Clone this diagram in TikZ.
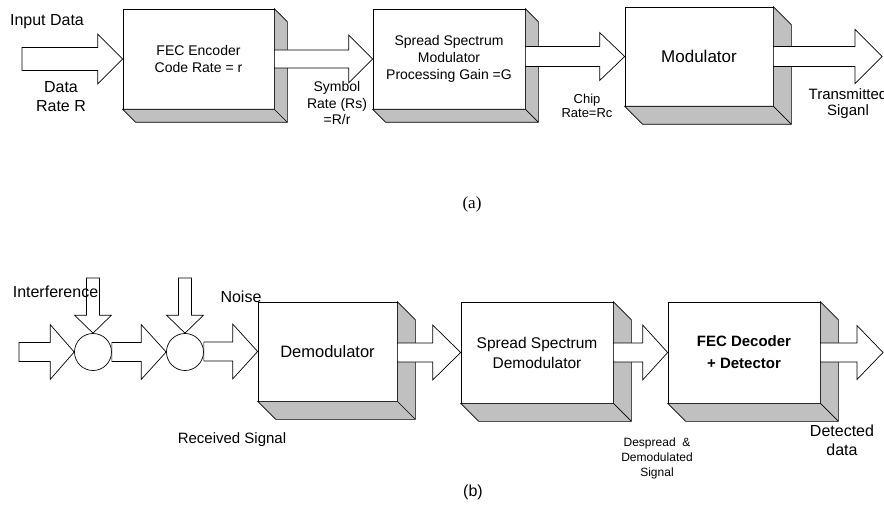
\documentclass[tikz,border=0pt]{standalone}
\usepackage{fontspec}
\setmainfont{Liberation Sans}
\newfontfamily\capfont{Liberation Serif}
\usetikzlibrary{calc}
\definecolor{shade}{HTML}{C0C0C0}

% block arrow: start, tip, shaft half width, head half width, head length
\newcommand{\fatarrow}[5]{%
  \draw[fill=white] let \p1=(#1), \p2=(#2) in
    (\x1,\y2+#3) -- (\x2-#5,\y2+#3) -- (\x2-#5,\y2+#4) -- (\x2,\y2)
    -- (\x2-#5,\y2-#4) -- (\x2-#5,\y2-#3) -- (\x1,\y2-#3) -- cycle;}
\newcommand{\fatdown}[5]{%
  \draw[fill=white] let \p1=(#1), \p2=(#2) in
    (\x2-#3,\y1) -- (\x2-#3,\y2+#5) -- (\x2-#4,\y2+#5) -- (\x2,\y2)
    -- (\x2+#4,\y2+#5) -- (\x2+#3,\y2+#5) -- (\x2+#3,\y1) -- cycle;}

\begin{document}
\begin{tikzpicture}[x=1pt,y=-1pt,line width=0.7pt,
  blockbox/.style={rectangle, draw, fill=white, inner sep=0pt, align=center, font=\fontsize{14}{17}\selectfont},
  junction/.style={circle, draw, fill=white, minimum size=37pt, inner sep=0pt},
  lbl/.style={inner sep=0pt, align=center, font=\fontsize{16}{19}\selectfont}]

\useasboundingbox (0,0) rectangle (884,505);

% (a) transmitter
\node (fec) [blockbox, minimum width=151, minimum height=100] at (198.5,59)
{FEC Encoder\\Code Rate = r};
\node (ss) [blockbox, minimum width=152, minimum height=100] at (449,59)
{Spread Spectrum\\Modulator\\Processing Gain =G};
\node (mod) [blockbox, minimum width=148, minimum height=99, font=\fontsize{17}{20}\selectfont] at (699,56.5)
{Modulator};
\coordinate (in) at (22,60);
\coordinate (out) at (882,56.5);

% (b) receiver
\node (sum1) [junction] at (93,352) {};
\node (sum2) [junction] at (185,352) {};
\coordinate (intf) at (93,278);
\coordinate (noise) at (185,278);
\node (dem) [blockbox, minimum width=139, minimum height=99, font=\fontsize{16.5}{20}\selectfont] at (327.5,351.5)
{Demodulator};
\node (ssd) [blockbox, minimum width=152, minimum height=101, font=\fontsize{15.5}{20}\selectfont] at (537,352.5)
{Spread Spectrum\\Demodulator};
\node (fecd) [blockbox, minimum width=152, minimum height=101, font=\bfseries\fontsize{15}{22}\selectfont] at (744,352.5)
{FEC Decoder\\+ Detector};
\coordinate (rin) at (19,352);
\coordinate (rout) at (883,352.5);

% depth faces
\foreach \b/\shift in {fec/13,ss/13,mod/18,dem/18,ssd/18,fecd/18}{
  \filldraw[fill=shade] (\b.north east) -- ++(\shift,\shift) -- ($(\b.south east)+(\shift,\shift)$)
    -- ($(\b.south west)+(\shift,\shift)$) -- (\b.south west) -- (\b.south east) -- cycle;
  \draw (\b.south east) -- ++(\shift,\shift);
}

\fatarrow{in}{fec.west}{11.5}{25}{25}
\fatarrow{fec.east}{ss.west}{9}{24}{24}
\fatarrow{ss.east}{mod.west}{10}{24}{25}
\fatarrow{mod.east}{out}{10}{27}{27}

\fatarrow{rin}{sum1.west}{9.5}{27.5}{24}
\fatarrow{sum1.east}{sum2.west}{9.5}{27.5}{25}
\fatarrow{sum2.east}{dem.west}{9.5}{27.5}{25}
\fatarrow{dem.east}{ssd.west}{9.5}{27.5}{28}
\fatarrow{ssd.east}{fecd.west}{9.5}{27.5}{25}
\fatarrow{fecd.east}{rout}{9.5}{27}{26}
\fatdown{intf}{sum1.north}{6.5}{18.5}{18}
\fatdown{noise}{sum2.north}{6.5}{18.5}{18}

% labels
\node (indata) [lbl] at (47,22) {Input Data};
\node (inrate) [lbl] at (61,97) {Data\\Rate R};
\node (symrate) [lbl, font=\fontsize{14}{16.5}\selectfont] at (337,103) {Symbol\\Rate (Rs)\\=R/r};
\node (chiprate) [lbl, font=\fontsize{13}{14}\selectfont] at (587,106) {Chip\\Rate=Rc};
\node (txsig) [lbl, font=\fontsize{15}{16}\selectfont] at (848,104) {Transmitted\\Siganl};
\node (capa) [lbl, font=\capfont\fontsize{17}{19}\selectfont] at (472,204) {(a)};

\node (intflbl) [lbl] at (55.5,292) {Interference};
\node (noiselbl) [lbl] at (241,297) {Noise};
\node (rxsig) [lbl, font=\fontsize{15}{18}\selectfont] at (232,440) {Received Signal};
\node (despread) [lbl, font=\fontsize{12}{15}\selectfont] at (657,458) {Despread\ \ \&\\Demodulated\\Signal};
\node (detdata) [lbl] at (842,440) {Detected\\data};
\node (capb) [lbl] at (473,492) {(b)};

\end{tikzpicture}
\end{document}
